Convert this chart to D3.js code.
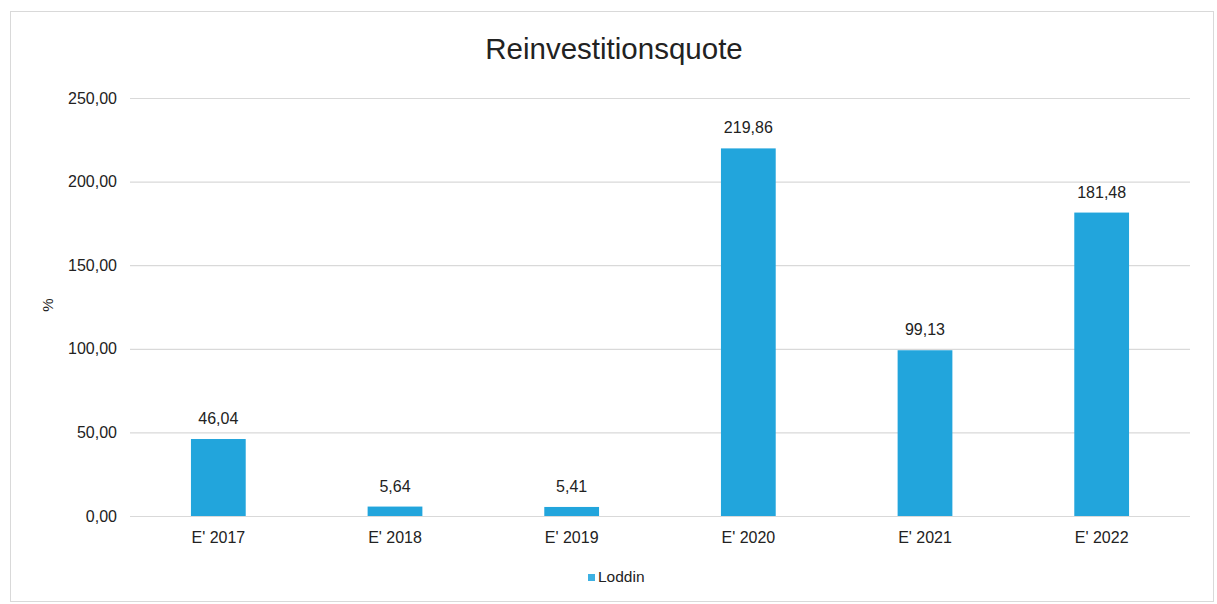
<!DOCTYPE html>
<html>
<head>
<meta charset="utf-8">
<script src="https://cdn.jsdelivr.net/npm/d3@7"></script>
<style>
  html, body { margin: 0; padding: 0; background: #fff; }
  svg { display: block; font-family: "Liberation Sans", Arial, sans-serif; }
</style>
</head>
<body>
<svg id="chart" width="1217" height="604"></svg>
<script>
// Reinvestitionsquote per year (percent)
const categories = ["E' 2017", "E' 2018", "E' 2019", "E' 2020", "E' 2021", "E' 2022"];
const values = [46.04, 5.64, 5.41, 219.86, 99.13, 181.48];
const yTicks = [0, 50, 100, 150, 200, 250];
const seriesName = "Loddin";
const chartTitle = "Reinvestitionsquote";
const axisTitle = "%";

const W = 1217, H = 604;
const margin = { left: 130, right: 27, top: 98, bottom: 88 };
const barColor = "#22a5dc";
const textColor = "#222";
const fmt = v => d3.format(".2f")(v).replace(".", ",");

const svg = d3.select("#chart");

// outer frame
svg.append("rect")
  .attr("x", 10.5).attr("y", 11.5)
  .attr("width", 1203).attr("height", 590)
  .attr("fill", "#fff").attr("stroke", "#d9d9d9").attr("stroke-width", 1);

const x = d3.scaleBand()
  .domain(categories)
  .range([margin.left, W - margin.right])
  .paddingInner(0.69)
  .paddingOuter(0.345);

const y = d3.scaleLinear()
  .domain([0, 250])
  .range([H - margin.bottom, margin.top]);

// y axis: gridlines + labels
const yAxis = d3.axisLeft(y)
  .tickValues(yTicks)
  .tickSize(-(W - margin.left - margin.right))
  .tickPadding(13)
  .tickFormat(fmt);

const gy = svg.append("g")
  .attr("transform", `translate(${margin.left},0)`)
  .call(yAxis);
gy.select(".domain").remove();
gy.selectAll(".tick line").attr("stroke", "#d9d9d9").attr("stroke-width", 1.2);
gy.selectAll(".tick text")
  .attr("fill", textColor)
  .attr("font-size", 16)
  .attr("font-family", "Liberation Sans, Arial, sans-serif");

// bars
svg.append("g").selectAll("rect")
  .data(values)
  .join("rect")
  .attr("x", (d, i) => x(categories[i]))
  .attr("y", d => y(d))
  .attr("width", x.bandwidth())
  .attr("height", d => y(0) - y(d))
  .attr("fill", barColor);

// value labels
svg.append("g").selectAll("text")
  .data(values)
  .join("text")
  .attr("x", (d, i) => x(categories[i]) + x.bandwidth() / 2)
  .attr("y", d => y(d) - 15)
  .attr("text-anchor", "middle")
  .attr("font-size", 16)
  .attr("fill", textColor)
  .text(d => fmt(d));

// x axis labels
const xAxis = d3.axisBottom(x).tickSize(0).tickPadding(16);
const gx = svg.append("g")
  .attr("transform", `translate(0,${y(0)})`)
  .call(xAxis);
gx.select(".domain").remove();
gx.selectAll(".tick text")
  .attr("fill", textColor)
  .attr("font-size", 16)
  .attr("font-family", "Liberation Sans, Arial, sans-serif");

// title
svg.append("text")
  .attr("x", 614).attr("y", 59)
  .attr("text-anchor", "middle")
  .attr("font-size", 29.5)
  .attr("fill", textColor)
  .text(chartTitle);

// y axis title
svg.append("text")
  .attr("transform", "translate(53,305) rotate(-90)")
  .attr("text-anchor", "middle")
  .attr("font-size", 15)
  .attr("fill", textColor)
  .text(axisTitle);

// legend
const lg = svg.append("g").attr("transform", "translate(588,574)");
lg.append("rect").attr("width", 7).attr("height", 7).attr("fill", "#3db1e3");
lg.append("text")
  .attr("x", 10).attr("y", 8)
  .attr("font-size", 15.5)
  .attr("fill", textColor)
  .text(seriesName);
</script>
</body>
</html>
